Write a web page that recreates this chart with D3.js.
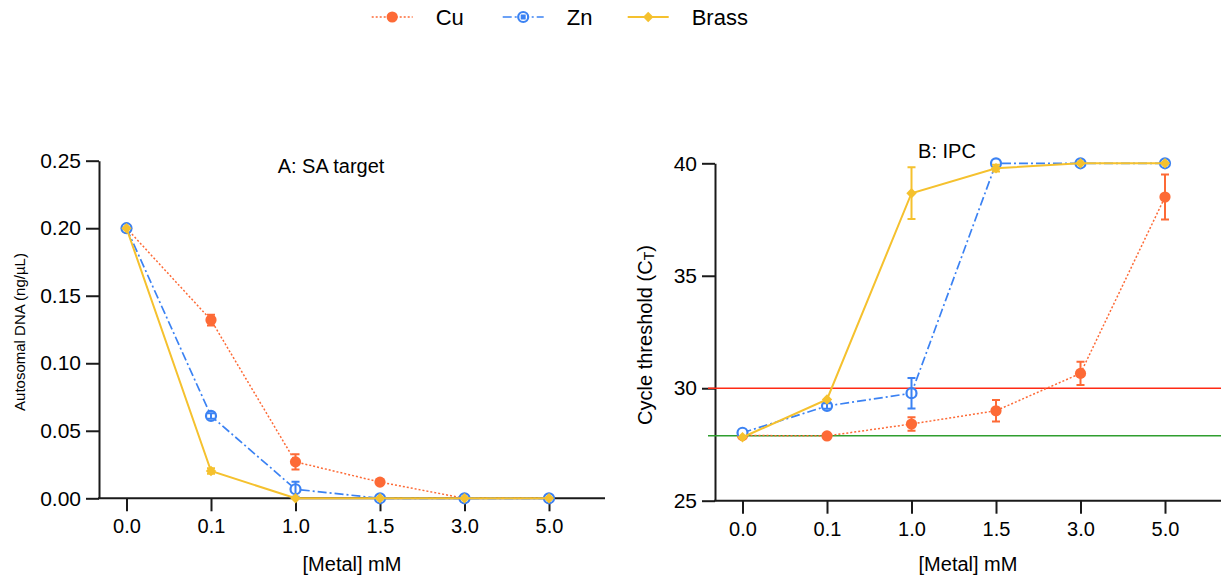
<!DOCTYPE html>
<html><head><meta charset="utf-8">
<script src="https://cdn.jsdelivr.net/npm/d3@7"></script>
<style>body{margin:0;background:#fff;} text{font-family:"Liberation Sans",Arial,sans-serif;fill:#000;}</style>
</head><body>
<svg id="c" width="1224" height="578"></svg>
<script>
const categories = ["0.0","0.1","1.0","1.5","3.0","5.0"];
const seriesNames = ["Cu","Zn","Brass"];
// Panel A: autosomal DNA (ng/µL)
const cuDNA = [0.200, 0.132, 0.027, 0.012, 0, 0];
const cuDNAErr = [0, 0.004, 0.0057, 0.002, 0, 0];
const znDNA = [0.200, 0.061, 0.0067, 0, 0, 0];
const znDNAErr = [0, 0.002, 0.0055, 0, 0, 0];
const brassDNA = [0.200, 0.0202, 0, 0, 0, 0];
const brassDNAErr = [0, 0.002, 0, 0, 0, 0];
// Panel B: cycle threshold
const cuCT = [27.9, 27.88, 28.41, 29.0, 30.66, 38.5];
const cuCTErr = [0, 0, 0.3, 0.48, 0.52, 1.0];
const znCT = [28.02, 29.21, 29.78, 40, 40, 40];
const znCTErr = [0, 0.12, 0.68, 0, 0, 0];
const brassCT = [27.82, 29.5, 38.67, 39.78, 40, 40];
const brassCTErr = [0, 0, 1.15, 0.15, 0, 0];
const yTicksDNA = [0, 0.05, 0.10, 0.15, 0.20, 0.25];
const yTicksCT = [25, 30, 35, 40];
const refLineValues = [30, 27.89];
const panelTitles = ["A: SA target", "B: IPC"];

const colors = {Cu:"#fd6a36", Zn:"#3b82f3", Brass:"#f5c12e"};
const dash = {Cu:"2,2", Zn:"9,3,2,3", Brass:null};
const lw = {Cu:1.5, Zn:1.7, Brass:2};
const refColors = ["#ff2a14", "#2f9e2f"];

const svg = d3.select("#c");

function marker(g, name, x, y, legend){
  if(name==="Cu"){
    g.append("circle").attr("cx",x).attr("cy",y).attr("r",5.6).attr("fill",colors.Cu);
  } else if(name==="Zn"){
    g.append("circle").attr("cx",x).attr("cy",y).attr("r",5).attr("fill","#fff").attr("stroke",colors.Zn).attr("stroke-width",2.2);
    if(legend) g.append("rect").attr("x",x-2.5).attr("y",y-2.5).attr("width",5).attr("height",5).attr("fill",colors.Zn);
  } else {
    const s=5.2;
    g.append("path").attr("d",`M${x},${y-s}L${x+s},${y}L${x},${y+s}L${x-s},${y}Z`).attr("fill",colors.Brass);
  }
}

function panel(opts){
  const g = svg.append("g");
  const x = d3.scalePoint().domain(categories).range([opts.x0+27.5, opts.x0+450]);
  const y = d3.scaleLinear().domain(opts.ydom).range([opts.ybot, opts.ytop]);
  // y axis
  const ya = g.append("g").attr("transform",`translate(${opts.x0},0)`)
    .call(d3.axisLeft(y).tickValues(opts.yticks).tickFormat(opts.fmt).tickSize(13).tickSizeOuter(0).tickPadding(5));
  ya.select(".domain").attr("stroke","#1a1a1a").attr("stroke-width",2);
  ya.selectAll(".tick line").attr("stroke","#1a1a1a").attr("stroke-width",2);
  ya.selectAll(".tick text").style("font-size","21px").attr("fill","#000");
  // x axis
  const xa = g.append("g").attr("transform",`translate(0,${opts.ybot})`)
    .call(d3.axisBottom(x).tickSize(13).tickPadding(8));
  xa.select(".domain").remove();
  xa.selectAll(".tick line").attr("stroke","#1a1a1a").attr("stroke-width",2);
  xa.selectAll(".tick text").style("font-size","20px").attr("fill","#000");
  g.append("line").attr("x1",opts.x0-1).attr("x2",opts.x0+506).attr("y1",opts.ybot).attr("y2",opts.ybot)
    .attr("stroke","#1a1a1a").attr("stroke-width",2);
  // reference lines
  (opts.refs||[]).forEach((v,i)=>{
    g.append("line").attr("x1",opts.x0-7).attr("x2",opts.x0+506).attr("y1",y(v)).attr("y2",y(v))
      .attr("stroke",refColors[i]).attr("stroke-width",1.6);
  });
  // series
  opts.series.forEach(s=>{
    const pts = s.vals.map((v,i)=>({c:categories[i], v, e:s.err[i]}));
    g.append("path").datum(pts)
      .attr("d", d3.line().x(d=>x(d.c)).y(d=>y(d.v)))
      .attr("fill","none").attr("stroke",colors[s.name]).attr("stroke-width",lw[s.name])
      .attr("stroke-dasharray",dash[s.name]);
    pts.forEach(d=>marker(g, s.name, x(d.c), y(d.v), false));
    pts.forEach(d=>{
      if(d.e>0){
        const cx=x(d.c), y1=y(d.v+d.e), y2=y(d.v-d.e);
        g.append("path").attr("d",`M${cx},${y1}V${y2}M${cx-4},${y1}H${cx+4}M${cx-4},${y2}H${cx+4}`)
          .attr("stroke",colors[s.name]).attr("stroke-width",2).attr("fill","none");
      }
    });
  });
  // titles
  g.append("text").attr("x",opts.titleX).attr("y",opts.titleY).attr("text-anchor","middle")
    .style("font-size","20px").text(opts.title);
  g.append("text").attr("x",opts.x0+253).attr("y",571).attr("text-anchor","middle")
    .style("font-size","20px").text("[Metal] mM");
  const yt = g.append("text").attr("transform",`translate(${opts.ytX},${opts.ytY}) rotate(-90)`)
    .attr("text-anchor","middle").attr("dominant-baseline","central").style("font-size",opts.ytSize);
  opts.ylabel(yt);
}

panel({x0:99, ytop:160.7, ybot:498.3, ydom:[0,0.25], yticks:yTicksDNA, fmt:d3.format(".2f"),
  title:panelTitles[0], titleX:331, titleY:173,
  ytX:19, ytY:332, ytSize:"15px",
  ylabel:t=>t.text("Autosomal DNA (ng/µL)"),
  series:[{name:"Cu",vals:cuDNA,err:cuDNAErr},{name:"Zn",vals:znDNA,err:znDNAErr},{name:"Brass",vals:brassDNA,err:brassDNAErr}]
});
panel({x0:715, ytop:163.3, ybot:500.7, ydom:[25,40], yticks:yTicksCT, fmt:d3.format("d"),
  title:panelTitles[1], titleX:947, titleY:158, refs:refLineValues,
  ytX:645, ytY:335, ytSize:"20px",
  ylabel:t=>{ t.append("tspan").text("Cycle threshold (C");
              t.append("tspan").attr("font-size","14px").attr("dy","4").text("T");
              t.append("tspan").attr("dy","-4").text(")"); },
  series:[{name:"Cu",vals:cuCT,err:cuCTErr},{name:"Zn",vals:znCT,err:znCTErr},{name:"Brass",vals:brassCT,err:brassCTErr}]
});

// legend
const legendX = [371.7, 502.7, 627.7];
const lg = svg.append("g");
seriesNames.forEach((n,i)=>{
  const x0 = legendX[i], yy = 17;
  lg.append("line").attr("x1",x0).attr("x2",x0+41).attr("y1",yy).attr("y2",yy)
    .attr("stroke",colors[n]).attr("stroke-width",lw[n]).attr("stroke-dasharray",dash[n]);
  marker(lg, n, x0+20.5, yy, true);
  lg.append("text").attr("x",x0+64).attr("y",yy).attr("dominant-baseline","central")
    .style("font-size","22px").text(n);
});
</script>
</body></html>
